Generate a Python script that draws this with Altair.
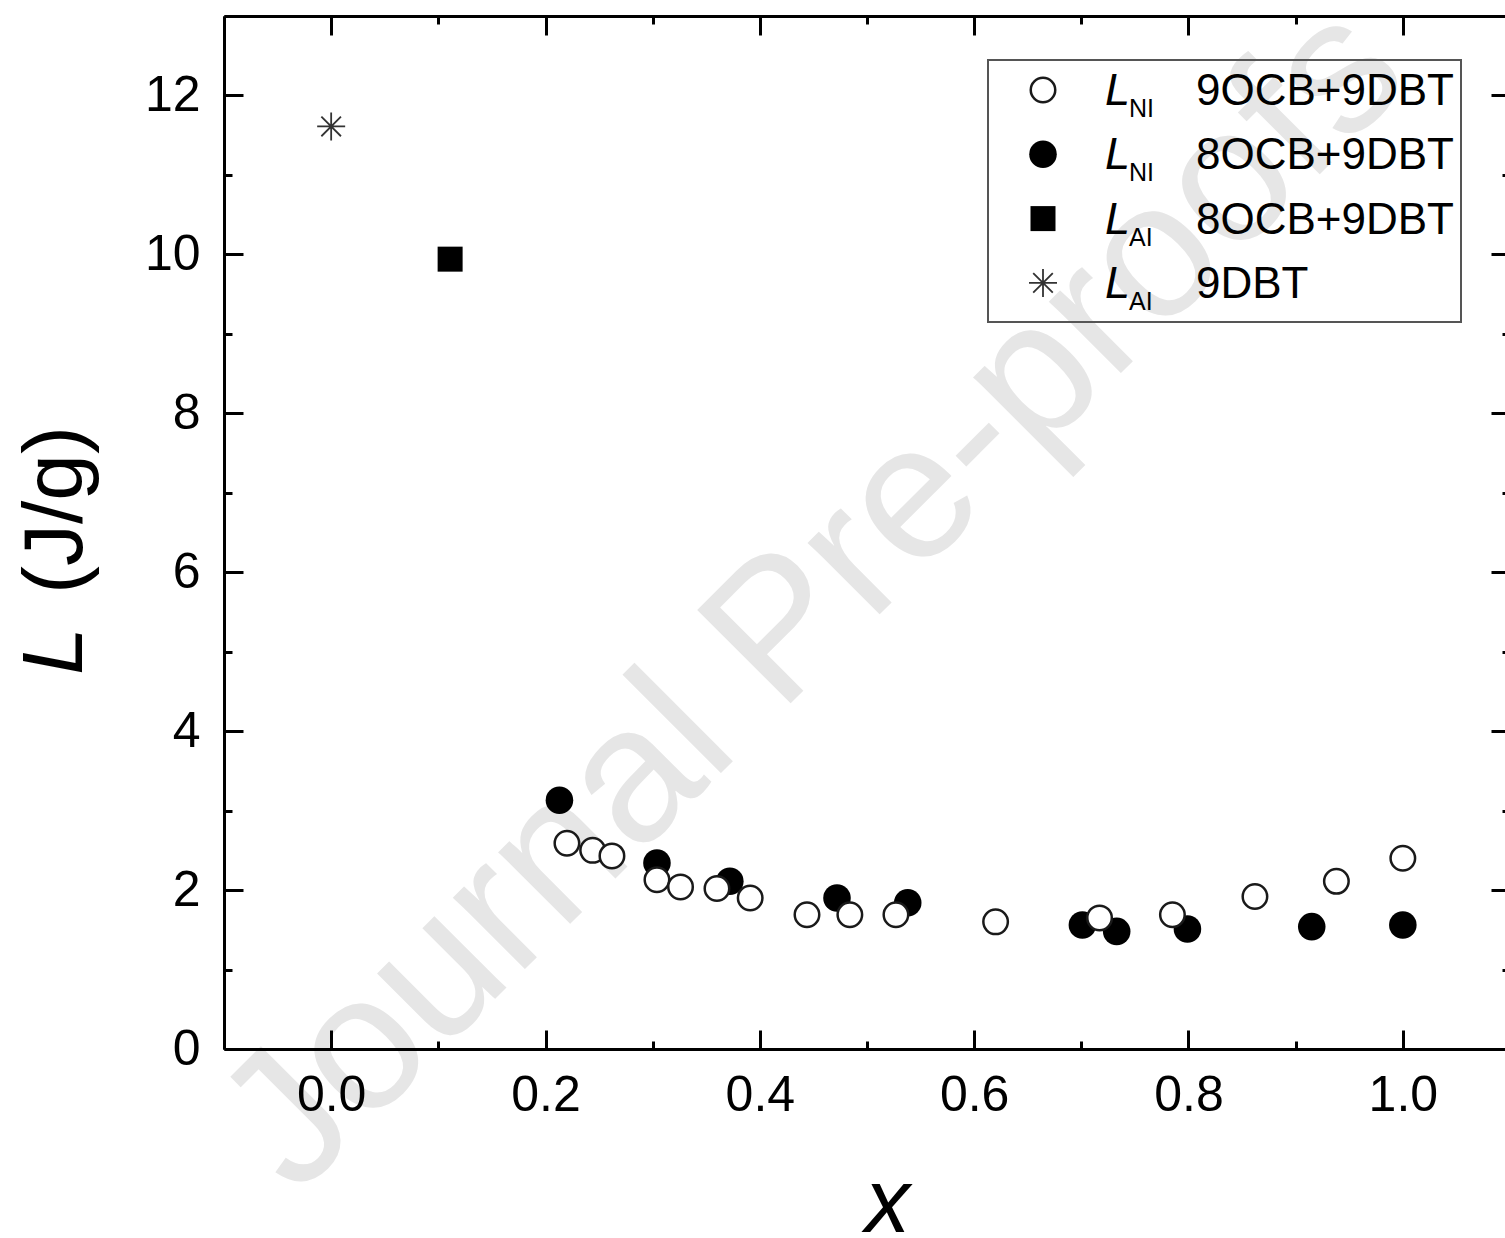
import altair as alt
import pandas as pd

# ---------------- data ----------------
x_open = [0.220, 0.244, 0.262, 0.304, 0.326, 0.360, 0.391, 0.444, 0.484,
          0.527, 0.620, 0.717, 0.785, 0.862, 0.938, 1.000]
L_open = [2.59, 2.50, 2.43, 2.13, 2.04, 2.02, 1.90, 1.69, 1.69,
          1.69, 1.60, 1.65, 1.69, 1.92, 2.11, 2.40]

x_filled = [0.213, 0.304, 0.372, 0.472, 0.538, 0.701, 0.733, 0.799, 0.915, 1.000]
L_filled = [3.13, 2.34, 2.11, 1.90, 1.84, 1.56, 1.48, 1.51, 1.54, 1.56]

x_square = [0.111]
L_square = [9.94]

x_star = [0.0]
L_star = [11.61]

x_ticks = [round(-0.1 + 0.1 * i, 1) for i in range(13)]
y_ticks = list(range(0, 14))

legend_L = ["L", "L", "L", "L"]
legend_subs = ["NI", "NI", "AI", "AI"]
legend_names = ["9OCB+9DBT", "8OCB+9DBT", "8OCB+9DBT", "9DBT"]

watermark = "Journal Pre-proofs"

# ---------------- frames ----------------
df_open = pd.DataFrame({"x": x_open, "L": L_open})
df_filled = pd.DataFrame({"x": x_filled, "L": L_filled})
df_square = pd.DataFrame({"x": x_square, "L": L_square})
df_star = pd.DataFrame({"x": x_star, "L": L_star})

FONT = "Liberation Sans"
xs = alt.Scale(domain=[-0.1, 1.1], nice=False, zero=False)
ys = alt.Scale(domain=[0, 13], nice=False, zero=False)

tick_x = {"condition": {"test": "round(datum.value * 10) % 2 === 0", "value": -19}, "value": -8}
tick_y = {"condition": {"test": "datum.value % 2 === 0", "value": -19}, "value": -8}

common = dict(domainColor="black", domainWidth=3, tickColor="black", tickWidth=3,
              grid=False, labelFont=FONT, labelFontSize=50, labelColor="black",
              labelFlush=False, labelOverlap=False, zindex=1)

ax_bottom = alt.Axis(orient="bottom", values=x_ticks, tickSize=tick_x,
                     labelExpr="round(datum.value * 10) % 2 === 0 ? format(datum.value, '.1f') : ''",
                     labelPadding=40, title="x", titleFont=FONT, titleFontSize=90,
                     titleFontStyle="italic", titleFontWeight="normal", titleColor="black",
                     titleX=663, titleY=182, titleBaseline="alphabetic", titleAlign="center",
                     **common)
ax_left = alt.Axis(orient="left", values=y_ticks, tickSize=tick_y,
                   labelExpr="datum.value % 2 === 0 ? format(datum.value, 'd') : ''",
                   labelPadding=43, title=None, **common)
ax_top = alt.Axis(orient="top", values=x_ticks, tickSize=tick_x, labels=False,
                  title=None, **common)
ax_right = alt.Axis(orient="right", values=y_ticks, tickSize=tick_y, labels=False,
                    title=None, **common)

# ---------------- layers ----------------
wm = alt.Chart().mark_text(text=watermark, font=FONT, fontSize=192, angle=315,
                           color="#e6e6e6", align="center", baseline="middle").encode(
    x=alt.value(590), y=alt.value(582))

filled = alt.Chart(df_filled).mark_point(shape="circle", filled=True, fill="black",
                                         size=760, opacity=1, strokeWidth=0).encode(
    x=alt.X("x:Q", scale=xs, axis=ax_bottom),
    y=alt.Y("L:Q", scale=ys, axis=ax_left))

opened = alt.Chart(df_open).mark_point(shape="circle", filled=True, fill="white",
                                       stroke="#1a1a1a", strokeWidth=2.5,
                                       size=600, opacity=1).encode(
    x=alt.X("x:Q", scale=xs, axis=ax_top),
    y=alt.Y("L:Q", scale=ys, axis=ax_right))

square = alt.Chart(df_square).mark_point(shape="square", filled=True, fill="black",
                                         size=625, opacity=1, strokeWidth=0).encode(
    x=alt.X("x:Q", scale=xs, axis=None),
    y=alt.Y("L:Q", scale=ys, axis=None))

STAR = "M-1,0L1,0M0,-1L0,1M-0.7,-0.7L0.7,0.7M-0.7,0.7L0.7,-0.7"
star = alt.Chart(df_star).mark_point(shape=STAR, filled=False, stroke="#333333",
                                     strokeWidth=1.8, size=784, opacity=1).encode(
    x=alt.X("x:Q", scale=xs, axis=None),
    y=alt.Y("L:Q", scale=ys, axis=None))

# y-axis title: italic L + upright (J/g)
ytitle_L = alt.Chart().mark_text(text="L", font=FONT, fontSize=86, fontStyle="italic",
                                 angle=270, align="center", baseline="alphabetic",
                                 color="black").encode(x=alt.value(-142), y=alt.value(635))
ytitle_u = alt.Chart().mark_text(text="(J/g)", font=FONT, fontSize=84, angle=270,
                                 align="center", baseline="alphabetic",
                                 color="black").encode(x=alt.value(-142), y=alt.value(494))

# legend
leg_box = alt.Chart().mark_rect(fill="transparent", stroke="#555555", strokeWidth=2).encode(
    x=alt.value(764), x2=alt.value(1237), y=alt.value(44), y2=alt.value(306))

LX, LY0, LH = 819, 74, 64.3
leg_open = alt.Chart().mark_point(shape="circle", filled=True, fill="white", stroke="#1a1a1a",
                                  strokeWidth=2.5, size=600, opacity=1).encode(
    x=alt.value(LX), y=alt.value(LY0))
leg_filled = alt.Chart().mark_point(shape="circle", filled=True, fill="black", size=760,
                                    opacity=1, strokeWidth=0).encode(
    x=alt.value(LX), y=alt.value(LY0 + LH))
leg_square = alt.Chart().mark_point(shape="square", filled=True, fill="black", size=625,
                                    opacity=1, strokeWidth=0).encode(
    x=alt.value(LX), y=alt.value(LY0 + 2 * LH))
leg_star = alt.Chart().mark_point(shape=STAR, filled=False, stroke="#333333", strokeWidth=1.8,
                                  size=784, opacity=1).encode(
    x=alt.value(LX), y=alt.value(LY0 + 3 * LH))

leg_L = alt.Chart().mark_text(font=FONT, fontSize=45, fontStyle="italic", align="left",
                              baseline="alphabetic", lineHeight=LH, color="black").encode(
    x=alt.value(881), y=alt.value(89), text=alt.value(legend_L))
leg_sub = alt.Chart().mark_text(font=FONT, fontSize=25, align="left",
                                baseline="alphabetic", lineHeight=LH, color="black").encode(
    x=alt.value(905), y=alt.value(101), text=alt.value(legend_subs))
leg_name = alt.Chart().mark_text(font=FONT, fontSize=44, align="left",
                                 baseline="alphabetic", lineHeight=LH, color="black").encode(
    x=alt.value(972), y=alt.value(89), text=alt.value(legend_names))

chart = alt.layer(
    wm, filled, opened, square, star, ytitle_L, ytitle_u,
    leg_box, leg_open, leg_filled, leg_square, leg_star, leg_L, leg_sub, leg_name,
).resolve_axis(x="independent", y="independent").properties(
    width=1286, height=1033,
    padding={"left": 224, "top": 16, "right": -5, "bottom": 189},
    autosize=alt.AutoSizeParams(type="none"),
    background="white",
).configure_view(stroke="transparent")

chart.save("out.html", embed_options={"renderer": "svg", "actions": False})
